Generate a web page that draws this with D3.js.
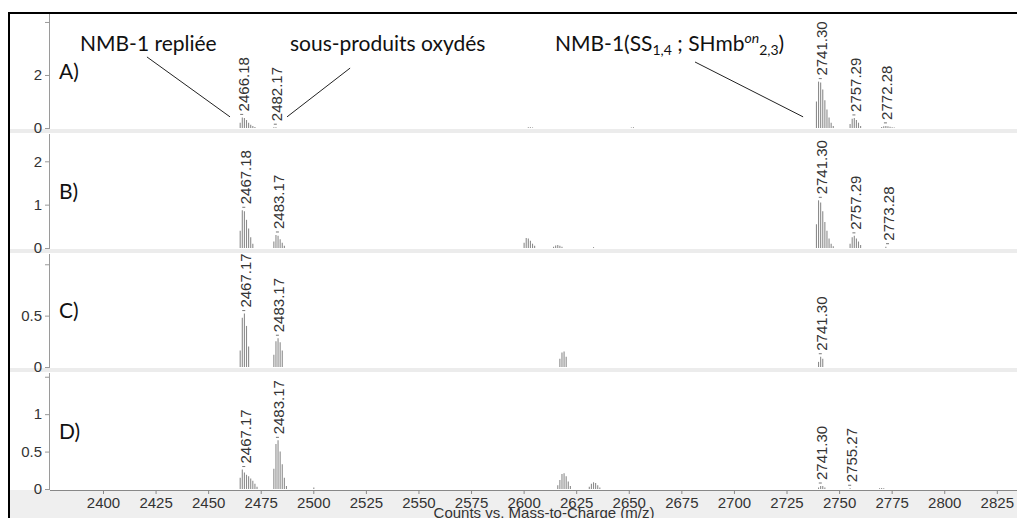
<!DOCTYPE html>
<html><head><meta charset="utf-8">
<script src="https://cdn.jsdelivr.net/npm/d3@7"></script>
<style>body{margin:0;background:#fff}svg{display:block}</style>
</head><body><svg id="c" width="1017" height="518"></svg>
<script>
// ---------- DATA ----------
const panelNames = ["A)", "B)", "C)", "D)"];
const xTicks = [2400,2425,2450,2475,2500,2525,2550,2575,2600,2625,2650,2675,2700,2725,2750,2775,2800,2825];
const xTitle = "Counts vs. Mass-to-Charge (m/z)";
const yMaxA = 4.3, yMaxB = 2.63, yMaxC = 1.1, yMaxD = 1.55;
const yTicksA = [0, 2, 4],      yTickLabelsA = ["0", "2", ""];
const yTicksB = [0, 1, 2],      yTickLabelsB = ["0", "1", "2"];
const yTicksC = [0, 0.5, 1],    yTickLabelsC = ["0", "0.5", ""];
const yTicksD = [0, 0.5, 1, 1.5], yTickLabelsD = ["0", "0.5", "1", ""];

// sticks [m/z, counts]
const peaksA = [
  [2465,0.2],[2466,0.4],[2467,0.38],[2468,0.3],[2469,0.2],[2470,0.12],[2471,0.08],[2472,0.04],
  [2481,0.03],[2482,0.03],
  [2602,0.03],[2603,0.03],[2604,0.02],
  [2651,0.02],[2652,0.03],
  [2739,1.0],[2740,1.75],[2741,1.72],[2742,1.45],[2743,1.05],[2744,0.7],[2745,0.4],[2746,0.2],[2747,0.08],
  [2755,0.15],[2756,0.35],[2757,0.38],[2758,0.3],[2759,0.2],[2760,0.08],
  [2770,0.04],[2771,0.07],[2772,0.08],[2773,0.07],[2774,0.05],[2775,0.03],[2776,0.02]
];
const peaksB = [
  [2465,0.4],[2466,0.87],[2467,0.85],[2468,0.65],[2469,0.45],[2470,0.25],[2471,0.1],
  [2481,0.15],[2482,0.3],[2483,0.28],[2484,0.2],[2485,0.12],[2486,0.05],
  [2600,0.12],[2601,0.23],[2602,0.22],[2603,0.17],[2604,0.1],[2605,0.05],
  [2614,0.03],[2615,0.06],[2616,0.07],[2617,0.05],[2618,0.03],
  [2633,0.02],
  [2739,0.55],[2740,1.1],[2741,1.05],[2742,0.85],[2743,0.6],[2744,0.4],[2745,0.22],[2746,0.1],[2747,0.04],
  [2755,0.1],[2756,0.25],[2757,0.28],[2758,0.22],[2759,0.15],[2760,0.07],
  [2772,0.03]
];
const peaksC = [
  [2465,0.16],[2466,0.48],[2467,0.52],[2468,0.4],[2469,0.2],
  [2481,0.12],[2482,0.25],[2483,0.28],[2484,0.24],[2485,0.16],
  [2617,0.08],[2618,0.14],[2619,0.15],[2620,0.1],
  [2740,0.05],[2741,0.1],[2742,0.08]
];
const peaksD = [
  [2465,0.15],[2466,0.26],[2467,0.22],[2468,0.19],[2469,0.17],[2470,0.14],[2471,0.11],[2472,0.07],[2473,0.03],
  [2481,0.27],[2482,0.6],[2483,0.65],[2484,0.5],[2485,0.33],[2486,0.15],[2487,0.04],
  [2500,0.02],
  [2616,0.05],[2617,0.12],[2618,0.2],[2619,0.21],[2620,0.17],[2621,0.1],[2622,0.04],
  [2631,0.03],[2632,0.07],[2633,0.09],[2634,0.08],[2635,0.05],[2636,0.02],
  [2740,0.02],[2741,0.04],[2742,0.04],[2743,0.02],
  [2755,0.01],
  [2769,0.01],[2770,0.015],[2771,0.01]
];
const peakLabelsA = ["2466.18", "2482.17", "2741.30", "2757.29", "2772.28"];
const peakLabelsB = ["2467.18", "2483.17", "2741.30", "2757.29", "2773.28"];
const peakLabelsC = ["2467.17", "2483.17", "2741.30"];
const peakLabelsD = ["2467.17", "2483.17", "2741.30", "2755.27"];

// annotations (panel A data coords: from [m/z, value] to [m/z, value])
const annoTexts = ["NMB-1 repliée", "sous-produits oxydés"];
const annoLines = [
  [[2420.9, 2.68], [2460.4, 0.42]],
  [[2517.5, 2.26], [2487.5, 0.42]],
  [[2681.5, 2.49], [2732.9, 0.42]]
];

// ---------- DRAW ----------
const svg = d3.select("#c");
const W = 1017, H = 518;
const x = d3.scaleLinear().domain([2374.8, 2834.6]).range([50, 1017]);

const layout = [
  {top: 14,  zero: 128, max: yMaxA, ticks: yTicksA, tl: yTickLabelsA, peaks: peaksA, labels: peakLabelsA},
  {top: 134, zero: 248, max: yMaxB, ticks: yTicksB, tl: yTickLabelsB, peaks: peaksB, labels: peakLabelsB},
  {top: 254, zero: 367, max: yMaxC, ticks: yTicksC, tl: yTickLabelsC, peaks: peaksC, labels: peakLabelsC},
  {top: 373, zero: 489, max: yMaxD, ticks: yTicksD, tl: yTickLabelsD, peaks: peaksD, labels: peakLabelsD}
];

svg.append("rect").attr("width", W).attr("height", H).attr("fill", "#fff");
svg.append("rect").attr("x", 9).attr("y", 490).attr("width", W).attr("height", 40).attr("fill", "#efefef");
[129, 249, 368].forEach(yy => {
  svg.append("rect").attr("x", 9).attr("y", yy).attr("width", W).attr("height", 4).attr("fill", "#ececec");
});

const axisFont = "'Liberation Sans', Arial, sans-serif";
const annoFont = "Lato, 'Open Sans', sans-serif";

layout.forEach((p, i) => {
  const y = d3.scaleLinear().domain([0, p.max]).range([p.zero, p.top]);
  const g = svg.append("g");
  const ax = d3.axisLeft(y).tickValues(p.ticks).tickSize(5).tickPadding(3)
    .tickFormat((d, k) => p.tl[k]);
  const ga = g.append("g").attr("transform", "translate(50,0)").call(ax);
  ga.select(".domain").attr("stroke", "#9a9a9a").attr("d", `M-0.5,${p.zero}V${p.top}`);
  ga.selectAll(".tick line").attr("stroke", "#9a9a9a");
  ga.selectAll(".tick text").attr("fill", "#333").style("font", `15px ${axisFont}`);
  g.selectAll("line.stick").data(p.peaks).join("line").attr("class", "stick")
    .attr("x1", d => x(d[0]) + 0.5).attr("x2", d => x(d[0]) + 0.5)
    .attr("y1", y(0)).attr("y2", d => y(d[1]))
    .attr("stroke", "#8c8c8c").attr("stroke-width", 1.1);
  p.labels.forEach(t => {
    const mz = +t;
    const near = p.peaks.filter(d => Math.abs(d[0] - mz) <= 4);
    const top = d3.max(near, d => d[1]) || 0;
    const yb = y(top) - 4;
    const xc = x(mz) + 1;
    g.append("line").attr("x1", xc - 3).attr("x2", xc).attr("y1", yb + 1).attr("y2", yb + 1)
      .attr("stroke", "#777").attr("stroke-width", 1);
    g.append("text").attr("transform", `translate(${xc},${yb - 2}) rotate(-90)`)
      .attr("dy", "0.36em").attr("text-anchor", "start")
      .attr("fill", "#333").style("font", `15px ${axisFont}`).text(t);
  });
  g.append("text").attr("x", 59).attr("y", y(p.max * 0.5))
    .attr("dy", "0.36em").attr("fill", "#111").style("font", `21px ${annoFont}`).text(panelNames[i]);
  p.y = y;
});

const xa = d3.axisBottom(x).tickValues(xTicks).tickSize(4).tickPadding(3).tickFormat(d3.format("d"));
const gx = svg.append("g").attr("transform", "translate(0,490)").call(xa);
gx.select(".domain").attr("stroke", "#888").attr("d", "M50,0.5H1017");
gx.selectAll(".tick line").attr("stroke", "#888");
gx.selectAll(".tick text").attr("fill", "#333").style("font", `15px ${axisFont}`);
svg.append("text").attr("x", 544).attr("y", 518).attr("text-anchor", "middle")
  .attr("fill", "#333").style("font", `15px ${axisFont}`).text(xTitle);

const yA = layout[0].y;
svg.append("text").attr("x", 80).attr("y", 51).attr("fill", "#111")
  .style("font", `21px ${annoFont}`).text(annoTexts[0]);
svg.append("text").attr("x", 290).attr("y", 51).attr("fill", "#111")
  .style("font", `21px ${annoFont}`).text(annoTexts[1]);
const t3 = svg.append("text").attr("x", 555).attr("y", 51).attr("fill", "#111").style("font", `21px ${annoFont}`);
t3.append("tspan").text("NMB-1(SS");
t3.append("tspan").attr("font-size", "14px").attr("dy", 4).text("1,4");
t3.append("tspan").attr("dy", -4).text(" ; SHmb");
t3.append("tspan").attr("font-size", "14px").attr("font-style", "italic").attr("dy", -8).text("on");
t3.append("tspan").attr("font-size", "14px").attr("dy", 12).text("2,3");
t3.append("tspan").attr("dy", -4).text(")");
annoLines.forEach(l => {
  svg.append("line").attr("x1", x(l[0][0])).attr("y1", yA(l[0][1]))
    .attr("x2", x(l[1][0])).attr("y2", yA(l[1][1])).attr("stroke", "#222").attr("stroke-width", 1);
});

svg.append("path").attr("d", "M9,530V13H1030").attr("fill", "none").attr("stroke", "#000").attr("stroke-width", 2);
</script></body></html>
